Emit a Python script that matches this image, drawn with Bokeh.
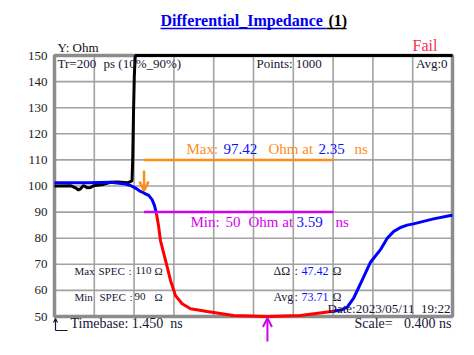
from bokeh.plotting import figure
from bokeh.models import Label, Arrow, OpenHead
from bokeh.core.properties import value
from bokeh.embed import file_html
from bokeh.resources import INLINE

# ---- data (time in ns, impedance in Ohm) ----
black_t = [1.450, 1.611, 1.661, 1.691, 1.711, 1.741, 1.782, 1.812, 1.842, 1.942, 2.013, 2.083, 2.184, 2.229, 2.236, 2.244, 2.252, 2.262, 5.450]
black_v = [100.0, 100.1, 99.3, 98.5, 98.9, 100.2, 99.3, 99.4, 100.1, 100.6, 101.4, 101.5, 101.2, 102.0, 110.0, 128.0, 142.0, 150.0, 150.0]

blue1_t = [1.450, 1.800, 2.013, 2.143, 2.214, 2.264, 2.314, 2.344, 2.364, 2.397, 2.431, 2.455, 2.475]
blue1_v = [101.2, 101.2, 101.4, 100.9, 100.2, 99.2, 97.9, 97.42, 97.0, 96.4, 94.8, 92.5, 89.4]

red_t = [2.475, 2.495, 2.515, 2.566, 2.616, 2.666, 2.733, 2.817, 2.985, 3.249, 3.590, 3.922, 4.254]
red_v = [89.4, 84.9, 79.1, 71.5, 63.8, 58.0, 54.9, 53.0, 51.9, 50.4, 50.0, 50.4, 52.0]

blue2_t = [4.254, 4.340, 4.392, 4.455, 4.555, 4.626, 4.726, 4.794, 4.860, 4.927, 4.994, 5.058, 5.259, 5.430, 5.450]
blue2_v = [52.0, 52.6, 53.6, 56.9, 65.0, 70.8, 75.6, 80.0, 82.6, 84.1, 85.0, 85.5, 87.4, 88.7, 88.8]

y_ticks = [50, 60, 70, 80, 90, 100, 110, 120, 130, 140, 150]
y_tick_labels = [str(v) for v in y_ticks]
timebase = 1.450
scale = 0.400
n_div = 10
x_ticks = [round(timebase + scale * i, 3) for i in range(n_div + 1)]

max_spec = 110
min_spec = 90
max_val, max_at = 97.42, 2.35
min_val, min_at = 50, 3.59
delta_ohm = 47.42
avg_ohm = 73.71

SERIF = "Liberation Serif"
NAVY = "#161636"
ORANGE = "#ff8c1a"
MAGENTA = "#d400f0"
BLUE = "#1010ff"

# plotting box in data units
x0, x1 = timebase, timebase + scale * n_div
y0, y1 = y_ticks[0], y_ticks[-1]

# the whole canvas is the frame; the plot box sits at pixels [54,452] x [55,316]
W, H = 474, 355
BL, BR, BT, BB = 54.0, 452.0, 55.0, 316.0
sx = (x1 - x0) / (BR - BL)
sy = (y1 - y0) / (BB - BT)
xr = (x0 - BL * sx, x0 + (W - BL) * sx)
yr = (y1 - (H - BT) * sy, y1 + BT * sy)

def px(x):
    return x0 + (x - BL) * sx

def py(y):
    return y1 - (y - BT) * sy

p = figure(width=W, height=H, x_range=xr, y_range=yr,
           output_backend="svg", toolbar_location=None,
           x_axis_type=None, y_axis_type=None,
           min_border=0, min_border_left=0, min_border_right=0,
           min_border_top=0, min_border_bottom=0)
p.background_fill_color = "white"
p.border_fill_color = "white"
p.outline_line_color = None
p.grid.visible = False

# grid
p.segment(x0=x_ticks, y0=[y0] * len(x_ticks), x1=x_ticks, y1=[y1] * len(x_ticks),
          line_color="#a2a2a2", line_width=1.6)
p.segment(x0=[x0] * len(y_ticks), y0=y_ticks, x1=[x1] * len(y_ticks), y1=y_ticks,
          line_color="#a2a2a2", line_width=1.6)
# frame border
p.quad(left=[x0], right=[x1], bottom=[y0], top=[y1], fill_color=None,
       line_color="#8c8c8c", line_width=3.5)

# y tick labels
p.text(x=[px(47)] * len(y_ticks), y=y_ticks, text=y_tick_labels,
       text_align="right", text_baseline="middle", text_font=value(SERIF),
       text_font_size="13px", text_color="#222222")

# traces
p.line(black_t, black_v, line_color="black", line_width=3)
p.line(blue1_t, blue1_v, line_color="#0000ff", line_width=3)
p.line(red_t, red_v, line_color="#ff0000", line_width=3)
p.line(blue2_t, blue2_v, line_color="#0000ff", line_width=3)

# spec marker lines
p.line([max_at, red_t[-1]], [max_spec, max_spec], line_color=ORANGE, line_width=2.5)
p.line([max_at, red_t[-1]], [min_spec, min_spec], line_color=MAGENTA, line_width=2.5)

# arrows
p.add_layout(Arrow(x_start=max_at, y_start=py(170), x_end=max_at, y_end=max_val + 0.8,
                   line_color=ORANGE, line_width=2.5,
                   end=OpenHead(size=9, line_color=ORANGE, line_width=2.5)))
p.add_layout(Arrow(x_start=min_at, y_start=py(341), x_end=min_at, y_end=min_val - 0.6,
                   line_color=MAGENTA, line_width=2,
                   end=OpenHead(size=9, line_color=MAGENTA, line_width=2)))
# timebase marker
p.add_layout(Arrow(x_start=px(55), y_start=py(330), x_end=px(55), y_end=py(318),
                   line_color=NAVY, line_width=1.2,
                   end=OpenHead(size=4, line_color=NAVY, line_width=1.2)))
p.add_layout(Arrow(x_start=px(55), y_start=py(330), x_end=px(67), y_end=py(330),
                   line_color=NAVY, line_width=1.2, end=None))

SHIFT = 5.0

def lab(x, y, text, color=NAVY, size=13, style="normal", align="left"):
    p.add_layout(Label(x=px(x), y=py(y - SHIFT), text=text, text_color=color, text_font=SERIF,
                       text_font_size=f"{size}px", text_font_style=style, text_align=align,
                       text_baseline="alphabetic"))

# title with underline
lab(160, 25, "Differential_Impedance", color="#0000ee", size=16, style="bold")
lab(328, 25, "(1)", color="black", size=16, style="bold")
p.add_layout(Arrow(x_start=px(160), y_start=py(28), x_end=px(326), y_end=py(28),
                   line_color="#0000ee", line_width=1.5, end=None))
p.add_layout(Arrow(x_start=px(326), y_start=py(28), x_end=px(346), y_end=py(28),
                   line_color="black", line_width=1.5, end=None))

lab(57, 52, "Y: Ohm", color="#111111")
lab(412, 50, "Fail", color="#ff2a50", size=16)

lab(57, 68, "Tr=200")
lab(103, 68, "ps (10%_90%)")
lab(256, 68, "Points: 1000")
lab(447, 68, "Avg:0", align="right")

# max / min annotations
lab(186, 153, "Max:", color=ORANGE, size=15)
lab(223, 153, f"{max_val:.2f}", color=BLUE, size=15)
lab(268, 153, "Ohm at", color=ORANGE, size=15)
lab(318, 153, f"{max_at:.2f}", color=BLUE, size=15)
lab(354, 153, "ns", color=ORANGE, size=15)

lab(190, 226, "Min:", color=MAGENTA, size=15)
lab(225, 226, f"{min_val}", color=MAGENTA, size=15)
lab(248, 226, "Ohm at", color=MAGENTA, size=15)
lab(296, 226, f"{min_at:.2f}", color=BLUE, size=15)
lab(335, 226, "ns", color=MAGENTA, size=15)

# spec / statistics block
SPEC_SIZE = 11
lab(74, 275, "Max", size=SPEC_SIZE)
lab(98, 275, "SPEC", size=SPEC_SIZE)
lab(128, 275, ":", size=SPEC_SIZE)
lab(135, 275, f"{max_spec}", size=SPEC_SIZE)
lab(154, 275, "\u03a9", size=SPEC_SIZE)
lab(74, 301, "Min", size=SPEC_SIZE)
lab(99, 301, "SPEC", size=SPEC_SIZE)
lab(129, 301, ":", size=SPEC_SIZE)
lab(134, 301, f"{min_spec}", size=SPEC_SIZE)
lab(154, 301, "\u03a9", size=SPEC_SIZE)

lab(273, 275, "\u0394\u03a9", size=12)
lab(294, 275, ":", size=12)
lab(301, 275, f"{delta_ohm:.2f}", color=BLUE, size=12)
lab(332, 275, "\u03a9", size=12)
lab(273, 301, "Avg", size=12)
lab(294, 301, ":", size=12)
lab(301, 301, f"{avg_ohm:.2f}", color=BLUE, size=12)
lab(332, 301, "\u03a9", size=12)

lab(327, 313, "Date:2023/05/11\u00a0 19:22", size=13)
lab(70, 328, f"Timebase: {timebase:.3f}\u00a0 ns", size=14)
lab(354, 328, "Scale=", size=14)
lab(451, 328, f"{scale:.3f} ns", size=14, align="right")

open("out.html", "w").write(file_html(p, INLINE))
